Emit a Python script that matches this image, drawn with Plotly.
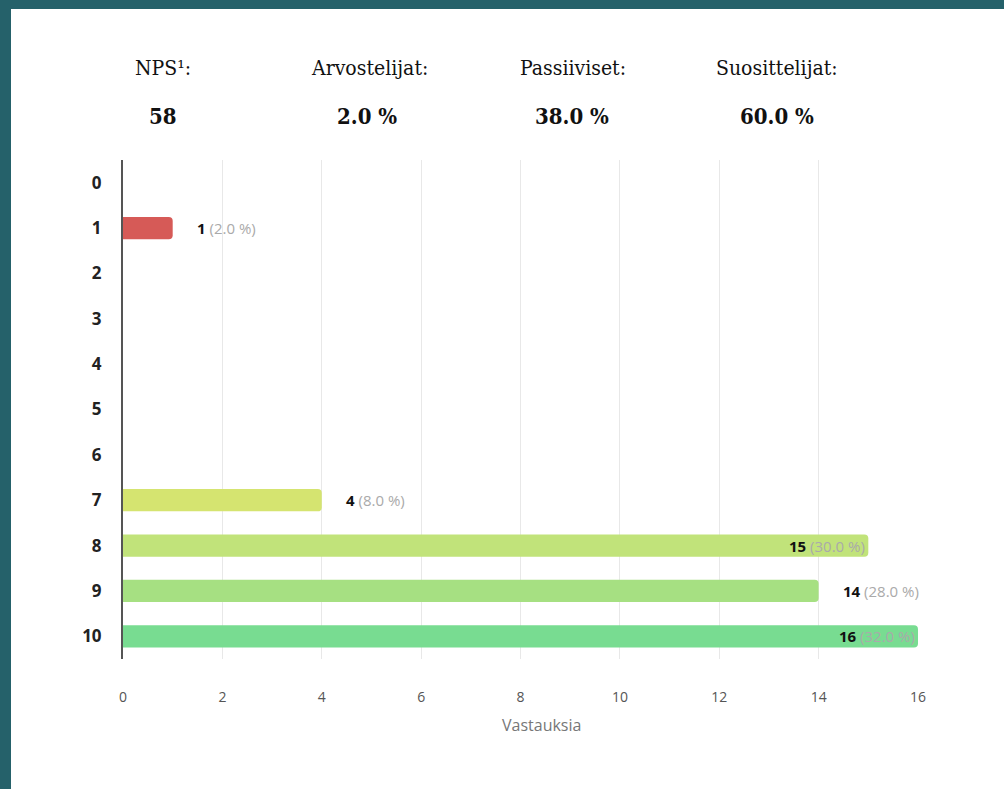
import plotly.graph_objects as go

categories = ["0", "1", "2", "3", "4", "5", "6", "7", "8", "9", "10"]
counts = [0, 1, 0, 0, 0, 0, 0, 4, 15, 14, 16]
percents = [0.0, 2.0, 0.0, 0.0, 0.0, 0.0, 0.0, 8.0, 30.0, 28.0, 32.0]
bar_colors = ["#d65a57", "#d65a57", "#d65a57", "#d65a57", "#d65a57", "#d65a57",
              "#d65a57", "#d5e470", "#c1e37a", "#a6e082", "#78dc91"]
inside_label = [False, False, False, False, False, False, False, False, True, False, True]

header_labels = ["NPS¹:", "Arvostelijat:", "Passiiviset:", "Suosittelijat:"]
header_values = ["58", "2.0 %", "38.0 %", "60.0 %"]
header_label_x = [163, 369, 573, 777]
header_value_x = [163, 367, 572, 777]
x_ticks = [0, 2, 4, 6, 8, 10, 12, 14, 16]
x_title = "Vastauksia"

W, H = 1004, 789
L, R, T, B = 123, 86, 160, 130
PW, PH = W - L - R, H - T - B


def px_x(px):
    return (px - L) / PW


def px_y(py):
    return (H - B - py) / PH


fig = go.Figure()
fig.add_trace(go.Bar(
    x=counts, y=categories, orientation="h",
    marker=dict(color=bar_colors, line=dict(width=0)),
    hoverinfo="skip",
))

annotations = []
for c, n, p, inside in zip(categories, counts, percents, inside_label):
    if n == 0:
        continue
    txt = f"<b>{n}</b> <span style='color:#aaaaaa'>({p:.1f} %)</span>"
    annotations.append(dict(
        x=n, y=c, xref="x", yref="y", text=txt, showarrow=False,
        xanchor="right" if inside else "left",
        xshift=-1 if inside else 22,
        font=dict(family="Open Sans", size=15, color="#111111"),
    ))

for lab, lx in zip(header_labels, header_label_x):
    annotations.append(dict(
        x=px_x(lx), y=px_y(68), xref="paper", yref="paper", text=lab,
        showarrow=False, xanchor="center", yanchor="middle",
        font=dict(family="DejaVu Serif Condensed, Liberation Serif", size=21, color="#111111"),
    ))
for val, vx in zip(header_values, header_value_x):
    annotations.append(dict(
        x=px_x(vx), y=px_y(116), xref="paper", yref="paper", text=f"<b>{val}</b>",
        showarrow=False, xanchor="center", yanchor="middle",
        font=dict(family="DejaVu Serif Condensed, Liberation Serif", size=22, color="#111111"),
    ))

annotations.append(dict(
    x=px_x(541), y=px_y(725), xref="paper", yref="paper", text=x_title,
    showarrow=False, xanchor="center", yanchor="middle",
    font=dict(family="Open Sans", size=16, color="#777777"),
))

shapes = [
    dict(type="rect", xref="paper", yref="paper", x0=px_x(0), x1=px_x(W),
         y0=px_y(0), y1=px_y(9), fillcolor="#25616a", line=dict(width=0), layer="above"),
    dict(type="rect", xref="paper", yref="paper", x0=px_x(0), x1=px_x(11),
         y0=px_y(0), y1=px_y(H), fillcolor="#25616a", line=dict(width=0), layer="above"),
]

fig.update_layout(
    width=W, height=H,
    margin=dict(l=L, r=R, t=T, b=B, pad=0),
    paper_bgcolor="white", plot_bgcolor="white",
    showlegend=False,
    bargap=0.51,
    barcornerradius=4,
    annotations=annotations,
    shapes=shapes,
    font=dict(family="Open Sans"),
)
fig.update_xaxes(
    range=[0, 16], tickvals=x_ticks, showgrid=True, gridcolor="#e8e8e8", gridwidth=1,
    zeroline=False, showline=False, ticks="", ticklabelstandoff=28,
    tickfont=dict(family="Open Sans", size=14, color="#555555"),
)
fig.update_yaxes(
    categoryorder="array", categoryarray=categories, autorange="reversed",
    showline=True, linecolor="#555555", linewidth=2, showgrid=False, ticks="",
    ticklabelstandoff=16,
    tickfont=dict(family="Open Sans", size=17, color="#222222", weight="bold"),
)

fig.write_html(
    "out.html",
    config={"displayModeBar": False},
    post_script="document.body.style.margin='0';document.body.style.padding='0';",
)
